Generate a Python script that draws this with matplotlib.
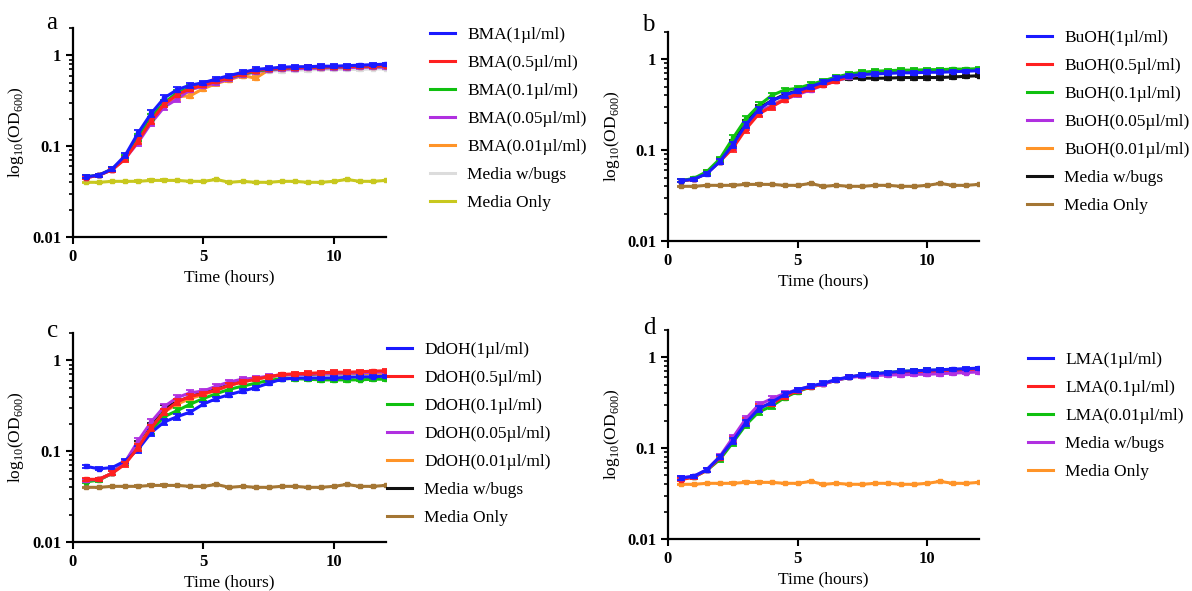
import numpy as np
import matplotlib
matplotlib.use("Agg")
from matplotlib import pyplot as plt
from matplotlib.ticker import LogLocator, NullFormatter, FixedLocator

plt.rcParams['font.family'] = ['Liberation Serif', 'DejaVu Serif']
plt.rcParams['mathtext.fontset'] = 'custom'
plt.rcParams['mathtext.rm'] = 'Liberation Serif'

# sampling times (hours)
time = [0.5, 1.0, 1.5, 2.0, 2.5, 3.0, 3.5, 4.0, 4.5, 5.0, 5.5, 6.0,
        6.5, 7.0, 7.5, 8.0, 8.5, 9.0, 9.5, 10.0, 10.5, 11.0, 11.5, 12.0]

# relative error bar size per time point
err_rel = [0.04, 0.04, 0.05, 0.06, 0.08, 0.08, 0.08, 0.07, 0.06, 0.05, 0.05, 0.05,
           0.05, 0.05, 0.05, 0.05, 0.05, 0.05, 0.05, 0.05, 0.05, 0.04, 0.04, 0.04]

media_only = [0.040, 0.040, 0.041, 0.041, 0.041, 0.042, 0.042, 0.042, 0.041, 0.041, 0.043, 0.040,
              0.041, 0.040, 0.040, 0.041, 0.041, 0.040, 0.040, 0.041, 0.043, 0.041, 0.041, 0.042]

# panel a - BMA
bma_labels = ['BMA(1µl/ml)', 'BMA(0.5µl/ml)', 'BMA(0.1µl/ml)', 'BMA(0.05µl/ml)',
              'BMA(0.01µl/ml)', 'Media w/bugs', 'Media Only']
bma_1 = [0.046, 0.048, 0.056, 0.079, 0.14, 0.23, 0.34, 0.42, 0.47, 0.50, 0.55, 0.60,
         0.65, 0.70, 0.72, 0.74, 0.75, 0.75, 0.76, 0.76, 0.77, 0.78, 0.79, 0.80]
bma_05 = [0.045, 0.048, 0.055, 0.072, 0.115, 0.19, 0.29, 0.37, 0.43, 0.47, 0.52, 0.57,
          0.63, 0.68, 0.71, 0.72, 0.73, 0.74, 0.74, 0.75, 0.75, 0.76, 0.76, 0.77]
bma_01 = [0.046, 0.048, 0.056, 0.075, 0.125, 0.21, 0.30, 0.39, 0.44, 0.48, 0.52, 0.57,
          0.62, 0.67, 0.70, 0.72, 0.73, 0.74, 0.74, 0.75, 0.75, 0.76, 0.76, 0.77]
bma_005 = [0.045, 0.048, 0.055, 0.073, 0.11, 0.18, 0.27, 0.33, 0.42, 0.46, 0.50, 0.55,
           0.61, 0.66, 0.69, 0.70, 0.71, 0.72, 0.72, 0.73, 0.73, 0.74, 0.74, 0.74]
bma_001 = [0.045, 0.048, 0.055, 0.074, 0.12, 0.19, 0.29, 0.35, 0.36, 0.43, 0.49, 0.54,
           0.60, 0.56, 0.69, 0.71, 0.72, 0.73, 0.73, 0.74, 0.74, 0.75, 0.75, 0.76]
bma_bugs = [0.045, 0.048, 0.055, 0.074, 0.12, 0.20, 0.30, 0.37, 0.42, 0.46, 0.50, 0.55,
            0.60, 0.65, 0.67, 0.68, 0.69, 0.69, 0.70, 0.70, 0.70, 0.70, 0.71, 0.71]

# panel b - BuOH
buoh_labels = ['BuOH(1µl/ml)', 'BuOH(0.5µl/ml)', 'BuOH(0.1µl/ml)', 'BuOH(0.05µl/ml)',
               'BuOH(0.01µl/ml)', 'Media w/bugs', 'Media Only']
buoh_1 = [0.046, 0.048, 0.055, 0.075, 0.115, 0.19, 0.28, 0.35, 0.40, 0.45, 0.50, 0.56,
          0.62, 0.66, 0.68, 0.69, 0.70, 0.71, 0.71, 0.72, 0.72, 0.73, 0.74, 0.75]
buoh_05 = [0.046, 0.048, 0.057, 0.075, 0.105, 0.17, 0.25, 0.30, 0.36, 0.42, 0.47, 0.52,
           0.58, 0.65, 0.70, 0.72, 0.73, 0.74, 0.74, 0.74, 0.75, 0.75, 0.76, 0.77]
buoh_01 = [0.046, 0.049, 0.058, 0.080, 0.135, 0.22, 0.31, 0.40, 0.46, 0.48, 0.53, 0.58,
           0.64, 0.69, 0.72, 0.74, 0.75, 0.76, 0.76, 0.77, 0.77, 0.78, 0.78, 0.79]
buoh_005 = [0.046, 0.048, 0.056, 0.075, 0.11, 0.18, 0.26, 0.31, 0.36, 0.41, 0.46, 0.52,
            0.58, 0.64, 0.69, 0.71, 0.72, 0.73, 0.73, 0.74, 0.74, 0.75, 0.75, 0.76]
buoh_001 = [0.046, 0.048, 0.056, 0.075, 0.11, 0.18, 0.26, 0.31, 0.37, 0.42, 0.47, 0.53,
            0.59, 0.65, 0.70, 0.72, 0.73, 0.73, 0.74, 0.74, 0.75, 0.75, 0.76, 0.76]
buoh_bugs = [0.046, 0.048, 0.056, 0.077, 0.12, 0.20, 0.29, 0.35, 0.41, 0.45, 0.50, 0.55,
             0.60, 0.62, 0.62, 0.62, 0.62, 0.63, 0.63, 0.63, 0.63, 0.64, 0.65, 0.66]

# panel c - DdOH
ddoh_labels = ['DdOH(1µl/ml)', 'DdOH(0.5µl/ml)', 'DdOH(0.1µl/ml)', 'DdOH(0.05µl/ml)',
               'DdOH(0.01µl/ml)', 'Media w/bugs', 'Media Only']
ddoh_1 = [0.068, 0.064, 0.066, 0.078, 0.105, 0.16, 0.21, 0.24, 0.27, 0.33, 0.38, 0.42,
          0.46, 0.50, 0.56, 0.62, 0.64, 0.64, 0.64, 0.64, 0.65, 0.66, 0.66, 0.67]
ddoh_05 = [0.049, 0.049, 0.057, 0.072, 0.11, 0.18, 0.27, 0.35, 0.40, 0.43, 0.47, 0.53,
           0.58, 0.62, 0.66, 0.70, 0.71, 0.72, 0.73, 0.74, 0.74, 0.75, 0.76, 0.77]
ddoh_01 = [0.046, 0.048, 0.057, 0.075, 0.11, 0.17, 0.24, 0.28, 0.33, 0.38, 0.43, 0.48,
           0.52, 0.56, 0.60, 0.63, 0.63, 0.62, 0.61, 0.61, 0.61, 0.61, 0.62, 0.62]
ddoh_005 = [0.048, 0.049, 0.057, 0.076, 0.13, 0.21, 0.31, 0.39, 0.44, 0.46, 0.52, 0.58,
            0.62, 0.64, 0.67, 0.69, 0.70, 0.71, 0.72, 0.72, 0.73, 0.73, 0.74, 0.75]
ddoh_001 = [0.048, 0.049, 0.057, 0.075, 0.115, 0.18, 0.27, 0.33, 0.38, 0.42, 0.47, 0.53,
            0.58, 0.62, 0.66, 0.69, 0.70, 0.71, 0.71, 0.72, 0.72, 0.72, 0.72, 0.72]
ddoh_bugs = [0.048, 0.049, 0.057, 0.076, 0.12, 0.19, 0.30, 0.35, 0.40, 0.44, 0.48, 0.54,
             0.59, 0.63, 0.66, 0.69, 0.70, 0.70, 0.71, 0.71, 0.71, 0.72, 0.72, 0.73]

# panel d - LMA
lma_labels = ['LMA(1µl/ml)', 'LMA(0.1µl/ml)', 'LMA(0.01µl/ml)', 'Media w/bugs', 'Media Only']
lma_1 = [0.047, 0.049, 0.058, 0.080, 0.12, 0.19, 0.27, 0.32, 0.39, 0.44, 0.48, 0.52,
         0.57, 0.61, 0.64, 0.66, 0.68, 0.70, 0.71, 0.72, 0.73, 0.74, 0.75, 0.76]
lma_01 = [0.045, 0.048, 0.057, 0.078, 0.125, 0.20, 0.28, 0.31, 0.37, 0.43, 0.47, 0.51,
          0.56, 0.61, 0.63, 0.65, 0.66, 0.67, 0.68, 0.68, 0.69, 0.69, 0.70, 0.71]
lma_001 = [0.046, 0.048, 0.057, 0.075, 0.115, 0.18, 0.25, 0.29, 0.36, 0.42, 0.47, 0.51,
           0.56, 0.60, 0.64, 0.66, 0.68, 0.70, 0.71, 0.72, 0.72, 0.73, 0.74, 0.75]
lma_bugs = [0.047, 0.049, 0.058, 0.081, 0.13, 0.21, 0.30, 0.35, 0.40, 0.44, 0.48, 0.51,
            0.56, 0.60, 0.62, 0.63, 0.64, 0.64, 0.65, 0.65, 0.66, 0.67, 0.68, 0.69]

blue, red, green, purple, orange = '#1a1aff', '#ff2020', '#10c010', '#b030e0', '#ff9428'
grey, yellow, black, brown = '#dcdcdc', '#c8c81e', '#111111', '#a47634'

W, H = 1192, 591
# (letter, axes rect, letter pos px, legend anchor px, labels, series, colours, z-order)
panels = [
    ('a', [0.0612, 0.599, 0.2626, 0.3536], (52, 23), (430, 27),
     bma_labels, [bma_1, bma_05, bma_01, bma_005, bma_001, bma_bugs, media_only],
     [blue, red, green, purple, orange, grey, yellow], [6, 5, 4, 3, 2, 1, 0]),
    ('b', [0.5604, 0.5922, 0.2609, 0.3537], (648, 25), (1027, 30),
     buoh_labels, [buoh_1, buoh_05, buoh_01, buoh_005, buoh_001, buoh_bugs, media_only],
     [blue, red, green, purple, orange, black, brown], [6, 4, 5, 3, 2, 1, 0]),
    ('c', [0.0612, 0.0829, 0.2626, 0.3536], (53, 331), (387, 342),
     ddoh_labels, [ddoh_1, ddoh_05, ddoh_01, ddoh_005, ddoh_001, ddoh_bugs, media_only],
     [blue, red, green, purple, orange, black, brown], [5, 6, 3, 4, 2, 1, 0]),
    ('d', [0.5604, 0.0880, 0.2609, 0.3537], (649, 328), (1028, 352),
     lma_labels, [lma_1, lma_01, lma_001, lma_bugs, media_only],
     [blue, red, green, purple, orange], [6, 4, 3, 5, 0]),
]

fig = plt.figure(figsize=(11.92, 5.91), dpi=100)

for letter, rect, let_pos, leg_pos, labels, series, colors, zorders in panels:
    ax = fig.add_axes(rect)
    handles = []
    for lab, y, c, z in zip(labels, series, colors, zorders):
        y = np.array(y)
        yerr = y * np.array(err_rel) * (0.3 if lab == 'Media Only' else 1.0)
        ax.errorbar(time, y, yerr=yerr, color=c, lw=2.2, marker='s', ms=3.5,
                    capsize=3, elinewidth=1.3, capthick=1.3, zorder=z + 2)
        h, = ax.plot([], [], color=c, lw=2.2, label=lab)
        handles.append(h)

    ax.set_yscale('log')
    ax.set_ylim(0.01, 2.0)
    ax.set_xlim(0, 12)
    ax.xaxis.set_major_locator(FixedLocator([0, 5, 10]))
    ax.yaxis.set_major_locator(FixedLocator([0.01, 0.1, 1]))
    ax.yaxis.set_minor_locator(LogLocator(base=10, subs=np.arange(2, 10)))
    ax.yaxis.set_minor_formatter(NullFormatter())
    ax.set_yticklabels(['0.01', '0.1', '1'])
    for s in ['top', 'right']:
        ax.spines[s].set_visible(False)
    for s in ['left', 'bottom']:
        ax.spines[s].set_linewidth(1.6)
    ax.tick_params(axis='both', which='major', length=5, width=1.5, labelsize=12, direction='out')
    ax.tick_params(axis='y', which='minor', length=3, width=1.2)
    for t in ax.get_xticklabels() + ax.get_yticklabels():
        t.set_fontweight('bold')
    ax.set_xlabel('Time (hours)', fontsize=12.5, labelpad=3)
    ax.set_ylabel(r'log$_{10}$(OD$_{600}$)', fontsize=12.5, labelpad=4)
    fig.text(let_pos[0] / W, 1 - let_pos[1] / H, letter, fontsize=18, ha='center', va='center')

    ax.legend(handles=handles, loc='upper left',
              bbox_to_anchor=(leg_pos[0] / W, 1 - leg_pos[1] / H),
              bbox_transform=fig.transFigure, frameon=False, fontsize=12.5,
              borderpad=0, borderaxespad=0, handlelength=1.45, handletextpad=0.7,
              labelspacing=0.68)

fig.savefig('out.png', dpi=100)
